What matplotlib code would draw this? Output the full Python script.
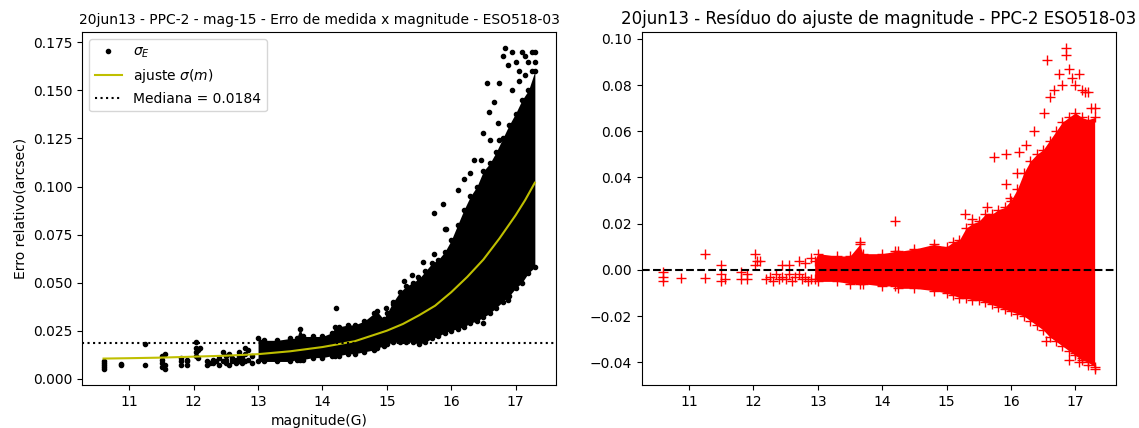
import matplotlib
matplotlib.use('Agg')
import matplotlib.pyplot as plt

# --- left panel: dense core of the error cloud (lower / upper edge per magnitude) ---
core_mag = [13.0, 13.1, 13.3, 13.5, 13.6, 13.65, 13.7, 13.85, 14.0, 14.15, 14.2, 14.25,
            14.4, 14.5, 14.65, 14.8, 14.85, 14.95, 15.0, 15.1, 15.2, 15.3, 15.4, 15.5,
            15.6, 15.7, 15.8, 15.9, 16.0, 16.1, 16.2, 16.3, 16.4, 16.5, 16.6, 16.7,
            16.8, 16.9, 17.0, 17.1, 17.2, 17.3]
core_lo = [0.009, 0.009, 0.009, 0.009, 0.010, 0.010, 0.010, 0.011, 0.011, 0.012, 0.012, 0.012,
           0.013, 0.013, 0.014, 0.015, 0.016, 0.017, 0.018, 0.019, 0.019, 0.019, 0.019, 0.018,
           0.019, 0.021, 0.022, 0.024, 0.025, 0.026, 0.027, 0.029, 0.030, 0.032, 0.034, 0.037,
           0.040, 0.043, 0.047, 0.050, 0.055, 0.058]
core_hi = [0.021, 0.020, 0.020, 0.021, 0.021, 0.026, 0.022, 0.022, 0.022, 0.024, 0.027, 0.027,
           0.028, 0.028, 0.030, 0.034, 0.035, 0.031, 0.034, 0.040, 0.045, 0.048, 0.050, 0.052,
           0.056, 0.060, 0.062, 0.066, 0.072, 0.080, 0.088, 0.095, 0.100, 0.108, 0.112, 0.118,
           0.125, 0.132, 0.138, 0.145, 0.150, 0.160]

# isolated / sparse measurements
pts_mag = [10.6, 10.6, 10.6, 10.6, 10.6, 10.87, 10.87, 11.25, 11.25,
           11.5, 11.5, 11.5, 11.5, 11.55, 11.55, 11.55,
           11.8, 11.8, 11.8, 11.9, 11.9, 11.9,
           12.03, 12.03, 12.03, 12.03, 12.06, 12.06, 12.1,
           12.2, 12.2, 12.25, 12.3, 12.3, 12.35, 12.4, 12.4, 12.45, 12.45,
           12.5, 12.5, 12.5, 12.55, 12.55, 12.6, 12.6, 12.65, 12.65,
           12.7, 12.7, 12.7, 12.75, 12.75, 12.8, 12.8, 12.8, 12.85, 12.85, 12.9, 12.9,
           14.21, 14.99, 15.09, 15.27, 15.39, 15.48, 15.57, 15.73, 15.73, 15.88, 15.9,
           15.92, 16.1, 16.2, 16.3, 16.36, 16.46, 16.5, 16.5, 16.55, 16.58, 16.6, 16.66,
           16.72, 16.74, 16.74, 16.8, 16.83, 16.89, 16.89, 16.95, 17.0, 17.05, 17.1,
           17.15, 17.2, 17.25, 17.3, 17.3, 16.95, 17.05, 17.15, 17.25]
pts_err = [0.005, 0.006, 0.007, 0.008, 0.009, 0.0075, 0.007, 0.018, 0.007,
           0.006, 0.008, 0.010, 0.012, 0.005, 0.007, 0.013,
           0.007, 0.009, 0.011, 0.007, 0.009, 0.010,
           0.012, 0.014, 0.016, 0.019, 0.011, 0.015, 0.016,
           0.007, 0.009, 0.008, 0.008, 0.010, 0.009, 0.007, 0.011, 0.014, 0.009,
           0.012, 0.008, 0.010, 0.007, 0.013, 0.009, 0.011, 0.010, 0.008,
           0.012, 0.009, 0.014, 0.008, 0.011, 0.016, 0.013, 0.009, 0.010, 0.015, 0.008, 0.012,
           0.037, 0.037, 0.039, 0.051, 0.054, 0.053, 0.061, 0.065, 0.086, 0.091, 0.078,
           0.078, 0.098, 0.104, 0.107, 0.114, 0.114, 0.128, 0.029, 0.154, 0.139, 0.124, 0.144,
           0.133, 0.154, 0.124, 0.168, 0.172, 0.163, 0.041, 0.170, 0.165, 0.160, 0.170,
           0.168, 0.165, 0.170, 0.170, 0.165, 0.150, 0.155, 0.158, 0.160]

# fitted sigma(m) curve
fit_mag = [10.6, 11.0, 11.5, 12.0, 12.5, 13.0, 13.5, 14.0, 14.5, 15.0, 15.25, 15.5,
           15.75, 16.0, 16.25, 16.5, 16.75, 17.0, 17.15, 17.3]
fit_err = [0.0105, 0.0107, 0.0110, 0.0115, 0.0120, 0.0128, 0.0143, 0.0165, 0.0195, 0.0250,
           0.0285, 0.0330, 0.0380, 0.0450, 0.0530, 0.0620, 0.0730, 0.0850, 0.0930, 0.1020]
median_err = 0.0184

# --- right panel: residuals of the fit ---
res_mag = [12.95, 13.0, 13.3, 13.5, 13.65, 13.7, 14.0, 14.2, 14.25, 14.5, 14.8, 15.0, 15.1,
           15.2, 15.3, 15.4, 15.5, 15.6, 15.7, 15.8, 15.9, 16.0, 16.1, 16.2, 16.3, 16.4,
           16.5, 16.6, 16.7, 16.8, 16.9, 17.0, 17.1, 17.2, 17.3]
res_lo = [-0.004, -0.005, -0.005, -0.006, -0.006, -0.006, -0.007, -0.007, -0.008, -0.008,
          -0.009, -0.010, -0.011, -0.012, -0.012, -0.013, -0.013, -0.014, -0.015, -0.016,
          -0.017, -0.018, -0.019, -0.020, -0.022, -0.024, -0.026, -0.029, -0.031, -0.033,
          -0.035, -0.037, -0.039, -0.040, -0.042]
res_hi = [0.004, 0.007, 0.006, 0.006, 0.011, 0.007, 0.007, 0.008, 0.008, 0.009, 0.011, 0.010,
          0.012, 0.013, 0.018, 0.020, 0.021, 0.024, 0.024, 0.026, 0.027, 0.030, 0.035, 0.042,
          0.047, 0.050, 0.052, 0.056, 0.060, 0.064, 0.066, 0.068, 0.066, 0.065, 0.066]

rpts_mag = [10.6, 10.6, 10.6, 10.87, 11.25, 11.25, 11.5, 11.5, 11.5, 11.55, 11.8, 11.8,
            11.9, 11.9, 12.03, 12.03, 12.06, 12.1,
            12.2, 12.25, 12.3, 12.35, 12.4, 12.45, 12.5, 12.55, 12.6, 12.65, 12.7, 12.75,
            12.8, 12.85, 12.9, 12.45, 12.55, 12.7, 12.8, 12.9,
            14.2, 13.65, 15.28, 15.4, 15.62, 15.74, 15.92, 15.93, 15.98, 16.1, 16.13, 16.24,
            16.36, 16.52, 16.55, 16.56, 16.6, 16.67, 16.75, 16.8, 16.85, 16.85, 16.9, 16.95,
            17.0, 17.05, 17.1, 17.15, 17.2, 17.25, 17.3, 16.9, 17.0, 17.05, 17.1, 17.2, 17.3]
rpts_res = [-0.001, -0.003, -0.005, -0.0035, 0.007, -0.0035, 0.002, -0.002, -0.005, -0.004,
            -0.001, -0.004, -0.002, -0.004, 0.002, 0.007, 0.004, 0.004,
            -0.004, -0.003, -0.005, -0.002, -0.004, -0.003, -0.004, -0.002, -0.005, -0.003,
            -0.002, -0.004, -0.003, -0.005, -0.004, 0.002, 0.002, 0.004, 0.003, 0.005,
            0.021, 0.012, 0.024, 0.022, 0.027, 0.049, 0.037, 0.050, 0.031, 0.042, 0.051, 0.054,
            0.060, 0.068, -0.031, 0.091, 0.075, 0.078, 0.085, 0.080, 0.093, 0.096, 0.087,
            0.083, 0.080, 0.085, 0.078, 0.077, 0.077, 0.070, 0.070, -0.039, -0.036, -0.040,
            -0.038, -0.041, -0.043]

fig, (ax1, ax2) = plt.subplots(1, 2, figsize=(11.39, 4.28), dpi=100)
plt.subplots_adjust(left=0.072, right=0.98, bottom=0.10, top=0.925, wspace=0.18)

# left: measurement error vs magnitude
ax1.fill_between(core_mag, core_lo, core_hi, color='k', lw=0)
ax1.plot(core_mag, core_lo, 'k.', ms=6)
ax1.plot(core_mag, core_hi, 'k.', ms=6)
ax1.plot(pts_mag, pts_err, 'k.', ms=6, label=r'$\sigma_E$')
ax1.plot(fit_mag, fit_err, color='y', lw=1.5, label=r'ajuste $\sigma(m)$')
ax1.axhline(median_err, color='k', ls=':', lw=1.5, label=f'Mediana = {median_err}')
ax1.set_title('20jun13 - PPC-2 - mag-15 - Erro de medida x magnitude - ESO518-03', fontsize=10)
ax1.set_xlabel('magnitude(G)')
ax1.set_ylabel('Erro relativo(arcsec)')
ax1.legend(loc='upper left')

# right: residuals
ax2.fill_between(res_mag, res_lo, res_hi, color='r', lw=0)
ax2.plot(res_mag, res_lo, 'r+', ms=7)
ax2.plot(res_mag, res_hi, 'r+', ms=7)
ax2.plot(rpts_mag, rpts_res, 'r+', ms=7)
ax2.axhline(0, color='k', ls='--', lw=1.5)
ax2.set_title('20jun13 - Resíduo do ajuste de magnitude - PPC-2 ESO518-03', fontsize=12)

plt.savefig('out.png')
